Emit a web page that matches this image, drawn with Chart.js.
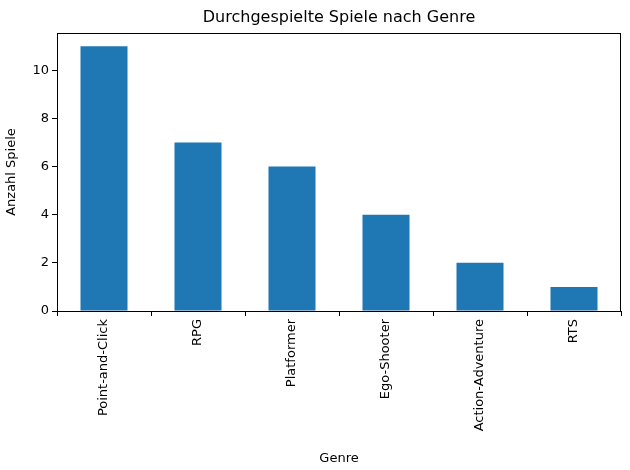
<!DOCTYPE html>
<html>
<head>
<meta charset="utf-8">
<script src="https://cdn.jsdelivr.net/npm/chart.js@4"></script>
<style>body{margin:0;background:#fff}</style>
</head>
<body>
<div style="width:630px;height:470px"><canvas id="c"></canvas></div>
<script>
const genres = ['Point-and-Click', 'RPG', 'Platformer', 'Ego-Shooter', 'Action-Adventure', 'RTS'];
const anzahl = [11, 7, 6, 4, 2, 1];
const yTicks = [0, 2, 4, 6, 8, 10];

const font = 'DejaVu Sans';

// Rahmen und Titel wie bei matplotlib
const frame = {
    id: 'frame',
    afterDraw(chart) {
        const { ctx, chartArea: a } = chart;
        ctx.save();
        ctx.strokeStyle = '#000';
        ctx.lineWidth = 1;
        ctx.strokeRect(a.left + 0.5, a.top + 0.5, a.right - a.left - 1, a.bottom - a.top);
        ctx.fillStyle = '#000';
        ctx.font = '16px "' + font + '"';
        ctx.textAlign = 'center';
        ctx.textBaseline = 'middle';
        ctx.fillText('Durchgespielte Spiele nach Genre', (a.left + a.right) / 2, 18);
        ctx.restore();
    }
};

new Chart(document.getElementById('c'), {
    type: 'bar',
    data: {
        labels: genres,
        datasets: [{ data: anzahl, backgroundColor: '#1f77b4', barPercentage: 0.5, categoryPercentage: 1 }]
    },
    options: {
        responsive: true,
        maintainAspectRatio: false,
        animation: false,
        layout: { padding: { top: 33, right: 9 } },
        plugins: { legend: { display: false }, tooltip: { enabled: false } },
        scales: {
            x: {
                afterFit: s => { s.height = 159; },
                grid: { drawOnChartArea: false, drawTicks: true, tickLength: 5, color: '#000' },
                border: { display: false },
                ticks: { color: '#000', font: { family: font, size: 13 }, maxRotation: 90, minRotation: 90 },
                title: { display: true, text: 'Genre', color: '#000', font: { family: font, size: 13 } }
            },
            y: {
                min: 0, max: 11.55,
                afterFit: s => { s.width = 57; },
                afterBuildTicks: s => { s.ticks = yTicks.map(v => ({ value: v })); },
                grid: { drawOnChartArea: false, drawTicks: true, tickLength: 5, color: '#000' },
                border: { display: false },
                ticks: { color: '#000', font: { family: font, size: 13 } },
                title: { display: true, text: 'Anzahl Spiele', color: '#000', font: { family: font, size: 13 } }
            }
        }
    },
    plugins: [frame]
});
</script>
</body>
</html>
